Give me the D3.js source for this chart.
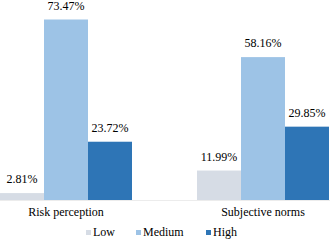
<!DOCTYPE html>
<html>
<head>
<meta charset="utf-8">
<script src="https://d3js.org/d3.v7.min.js"></script>
</head>
<body style="margin:0">
<script>
// categories and series
var categories = ["Risk perception", "Subjective norms"];
var series = ["Low", "Medium", "High"];
var lowValues = [2.81, 11.99];
var mediumValues = [73.47, 58.16];
var highValues = [23.72, 29.85];
var colors = ["#d6dce5", "#9dc3e6", "#2e75b6"];

var width = 333, height = 245;
var baseY = 200;
var fontName = "'Times New Roman'";

var svg = d3.select("body").append("svg")
    .attr("width", width)
    .attr("height", height);

// group scale (left plot edge is cut off in the picture)
var x0 = d3.scaleBand()
    .domain(categories)
    .range([-32.5, 361.5])
    .paddingInner(0.33)
    .paddingOuter(0.165);

var x1 = d3.scaleBand()
    .domain(series)
    .range([0, x0.bandwidth()]);

var y = d3.scaleLinear()
    .domain([0, 73.47])
    .range([baseY, 19.5]);

var color = d3.scaleOrdinal().domain(series).range(colors);

var rows = categories.map(function(c, i) {
    return { cat: c, vals: [
        { s: "Low", v: lowValues[i] },
        { s: "Medium", v: mediumValues[i] },
        { s: "High", v: highValues[i] }
    ]};
});

var g = svg.selectAll(".grp")
    .data(rows)
    .enter().append("g")
    .attr("transform", function(d) { return "translate(" + x0(d.cat) + ",0)"; });

g.selectAll("rect")
    .data(function(d) { return d.vals; })
    .enter().append("rect")
    .attr("x", function(d) { return x1(d.s); })
    .attr("width", x1.bandwidth())
    .attr("y", function(d) { return y(d.v); })
    .attr("height", function(d) { return baseY - y(d.v); })
    .attr("fill", function(d) { return color(d.s); });

g.selectAll(".lbl")
    .data(function(d) { return d.vals; })
    .enter().append("text")
    .attr("x", function(d) { return x1(d.s) + x1.bandwidth() / 2; })
    .attr("y", function(d) { return y(d.v) - 10; })
    .attr("text-anchor", "middle")
    .style("font-family", fontName)
    .style("font-size", "12px")
    .text(function(d) { return d.v.toFixed(2) + "%"; });

// baseline
svg.append("line")
    .attr("x1", 0).attr("x2", 330)
    .attr("y1", baseY + 0.5).attr("y2", baseY + 0.5)
    .attr("stroke", "#ececec");

// category labels
svg.selectAll(".cat")
    .data(categories)
    .enter().append("text")
    .attr("x", function(d) { return x0(d) + x0.bandwidth() / 2; })
    .attr("y", baseY + 16)
    .attr("text-anchor", "middle")
    .style("font-family", fontName)
    .style("font-size", "12px")
    .text(function(d) { return d; });

// legend
var legendX = [86, 136, 206];
var leg = svg.selectAll(".leg")
    .data(series)
    .enter().append("g")
    .attr("transform", function(d, i) { return "translate(" + legendX[i] + ",230)"; });
leg.append("rect")
    .attr("width", 5).attr("height", 5)
    .attr("fill", function(d) { return color(d); });
leg.append("text")
    .attr("x", 7).attr("y", 6)
    .style("font-family", fontName)
    .style("font-size", "12px")
    .text(function(d) { return d; });
</script>
</body>
</html>
